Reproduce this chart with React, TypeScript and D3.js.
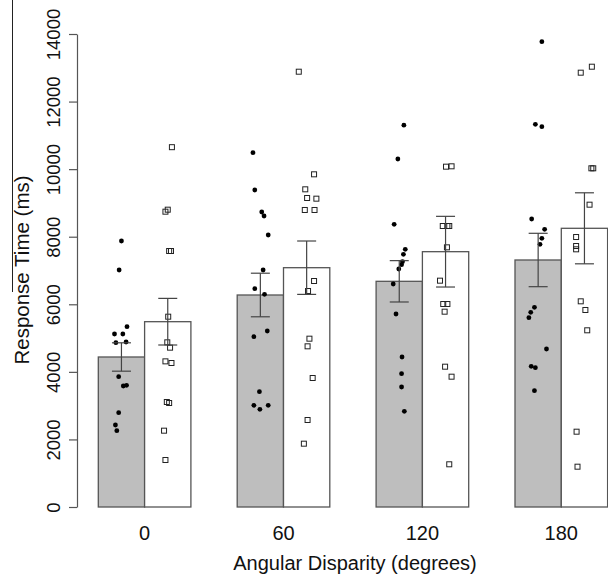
import React, { useEffect, useRef } from "react";
import * as d3 from "d3";

// angular disparity groups
const groups = ["0", "60", "120", "180"];

// bar heights (means) and standard errors, ms
const grayMeans = [4440, 6275, 6680, 7311];
const graySE = [420, 645, 612, 790];
const whiteMeans = [5485, 7083, 7557, 8249];
const whiteSE = [690, 790, 1046, 1051];

// individual subject response times (filled circles = gray bar, squares = white bar)
const grayPoints = [
  [7873, 7015, 5337, 5120, 5120, 4863, 4884, 3857, 3581, 3600, 2792, 2427, 2259],
  [10487, 9383, 8731, 8613, 8051, 7015, 6462, 6295, 5209, 5041, 3413, 3010, 2892, 3010],
  [11300, 10300, 8368, 7627, 7479, 7262, 7173, 7044, 6600, 5712, 4440, 3946, 3552, 2832],
  [13772, 11327, 11256, 8524, 8219, 7952, 7775, 5910, 5762, 5604, 4676, 4164, 4123, 3443],
];
const whitePoints = [
  [10650, 8741, 8800, 7577, 7577, 5633, 4874, 4716, 4311, 4262, 3108, 3078, 2259, 1391],
  [12884, 9847, 9403, 9146, 9126, 8791, 8791, 6689, 6393, 4982, 4756, 3818, 2575, 1874],
  [10073, 10084, 8317, 8317, 8317, 7686, 6699, 6008, 6008, 5781, 4153, 3857, 1264],
  [12855, 13032, 10025, 10025, 8948, 7991, 7725, 7627, 6088, 5831, 5230, 2229, 1193],
];
// horizontal jitter of each point, as a fraction of bar width
const grayJitter = [
  [0.0, -0.05, 0.12, -0.15, 0.03, -0.12, 0.1, -0.06, 0.04, 0.11, -0.06, -0.13, -0.1],
  [-0.16, -0.12, 0.03, 0.08, 0.17, 0.06, -0.12, 0.09, 0.15, -0.14, -0.02, -0.14, -0.01, 0.17],
  [0.1, -0.03, -0.11, 0.13, 0.09, 0.07, 0.05, -0.01, -0.13, -0.07, 0.06, 0.05, 0.05, 0.11],
  [0.08, -0.06, 0.08, -0.14, 0.14, 0.08, 0.04, -0.08, -0.16, -0.2, 0.18, -0.15, -0.06, -0.08],
];
const whiteJitter = [
  [0.09, -0.05, 0.0, 0.03, 0.07, 0.01, -0.01, 0.05, -0.05, 0.08, -0.02, 0.03, -0.08, -0.05],
  [-0.17, 0.16, -0.03, 0.01, 0.21, -0.04, 0.17, 0.16, 0.03, 0.06, 0.02, 0.13, 0.02, -0.06],
  [0.01, 0.13, -0.06, 0.04, 0.08, 0.03, -0.12, -0.05, 0.04, -0.02, -0.01, 0.13, 0.08],
  [-0.08, 0.16, 0.15, 0.19, 0.11, -0.18, -0.18, -0.18, -0.08, 0.02, 0.06, -0.17, -0.15],
];

const yTicks = [0, 2000, 4000, 6000, 8000, 10000, 12000, 14000];

const W = 608;
const H = 575;
const FONT = "'Liberation Sans', Arial, sans-serif";

const App = () => {
  const ref = useRef<SVGSVGElement>(null);

  useEffect(() => {
    const svg = d3.select(ref.current);
    svg.selectAll("*").remove();

    // barplot units: each bar is 1 wide, 1 unit gap before each group
    const x = d3.scaleLinear().domain([0, 12]).range([52, 607.6]);
    const y = d3.scaleLinear().domain([0, 14000]).range([507, 34]);
    const bw = x(1) - x(0);

    const grayLeft = (i: number) => 1 + 3 * i;
    const whiteLeft = (i: number) => 2 + 3 * i;

    // stray scan line at the left edge
    svg
      .append("line")
      .attr("x1", 12.5)
      .attr("x2", 12.5)
      .attr("y1", 0)
      .attr("y2", 292)
      .attr("stroke", "#222")
      .attr("stroke-width", 1);

    // bars
    const drawBars = (means: number[], left: (i: number) => number, fill: string) => {
      svg
        .append("g")
        .selectAll("rect")
        .data(means)
        .enter()
        .append("rect")
        .attr("x", (d, i) => x(left(i)))
        .attr("y", (d) => y(d))
        .attr("width", bw)
        .attr("height", (d) => y(0) - y(d))
        .attr("fill", fill)
        .attr("stroke", "#555")
        .attr("stroke-width", 1.3);
    };
    drawBars(grayMeans, grayLeft, "#bebebe");
    drawBars(whiteMeans, whiteLeft, "#ffffff");

    // points
    groups.forEach((g, i) => {
      const gc = x(grayLeft(i) + 0.5);
      const wc = x(whiteLeft(i) + 0.5);
      svg
        .append("g")
        .selectAll("circle")
        .data(grayPoints[i])
        .enter()
        .append("circle")
        .attr("cx", (d, j) => gc + grayJitter[i][j] * bw)
        .attr("cy", (d) => y(d))
        .attr("r", 2.4)
        .attr("fill", "#000");
      svg
        .append("g")
        .selectAll("rect")
        .data(whitePoints[i])
        .enter()
        .append("rect")
        .attr("x", (d, j) => wc + whiteJitter[i][j] * bw - 2.5)
        .attr("y", (d) => y(d) - 2.5)
        .attr("width", 5)
        .attr("height", 5)
        .attr("fill", "none")
        .attr("stroke", "#222")
        .attr("stroke-width", 1);
    });

    // error bars
    const drawErr = (means: number[], se: number[], left: (i: number) => number) => {
      means.forEach((m, i) => {
        const cx = x(left(i) + 0.5);
        const gE = svg.append("g").attr("stroke", "#444").attr("stroke-width", 1.2);
        gE.append("line").attr("x1", cx).attr("x2", cx).attr("y1", y(m + se[i])).attr("y2", y(m - se[i]));
        [m + se[i], m - se[i]].forEach((v) => {
          gE.append("line").attr("x1", cx - 9.5).attr("x2", cx + 9.5).attr("y1", y(v)).attr("y2", y(v));
        });
      });
    };
    drawErr(grayMeans, graySE, grayLeft);
    drawErr(whiteMeans, whiteSE, whiteLeft);

    // y axis
    const yAxis = svg
      .append("g")
      .attr("transform", "translate(77,0)")
      .call(d3.axisLeft(y).tickValues(yTicks).tickSize(8).tickSizeOuter(0).tickFormat(d3.format("d")));
    yAxis.select(".domain").attr("stroke", "#555").attr("stroke-width", 1.2);
    yAxis.selectAll(".tick line").attr("stroke", "#555").attr("stroke-width", 1.2);
    yAxis
      .selectAll(".tick text")
      .attr("x", null)
      .attr("dy", null)
      .attr("transform", "translate(-17,0) rotate(-90)")
      .attr("text-anchor", "middle")
      .attr("fill", "#111")
      .style("font-family", FONT)
      .style("font-size", "18.5px");

    // x category labels
    svg
      .selectAll(".bottom-labels")
      .data(groups)
      .enter()
      .append("text")
      .attr("class", "bottom-labels")
      .attr("x", (d, i) => x(whiteLeft(i)))
      .attr("y", 540)
      .text((d) => d)
      .attr("text-anchor", "middle")
      .attr("fill", "#111")
      .style("font-family", FONT)
      .style("font-size", "20px");

    // axis titles
    svg
      .append("text")
      .attr("x", 355)
      .attr("y", 570)
      .attr("text-anchor", "middle")
      .attr("fill", "#111")
      .style("font-family", FONT)
      .style("font-size", "20px")
      .text("Angular Disparity (degrees)");

    svg
      .append("text")
      .attr("transform", "translate(29,270) rotate(-90)")
      .attr("text-anchor", "middle")
      .attr("fill", "#111")
      .style("font-family", FONT)
      .style("font-size", "20.5px")
      .text("Response Time (ms)");
  }, []);

  return (
    <svg
      ref={ref}
      width={W}
      height={H}
      style={{ position: "absolute", left: 0, top: 0, background: "#fff" }}
    />
  );
};

export default App;
